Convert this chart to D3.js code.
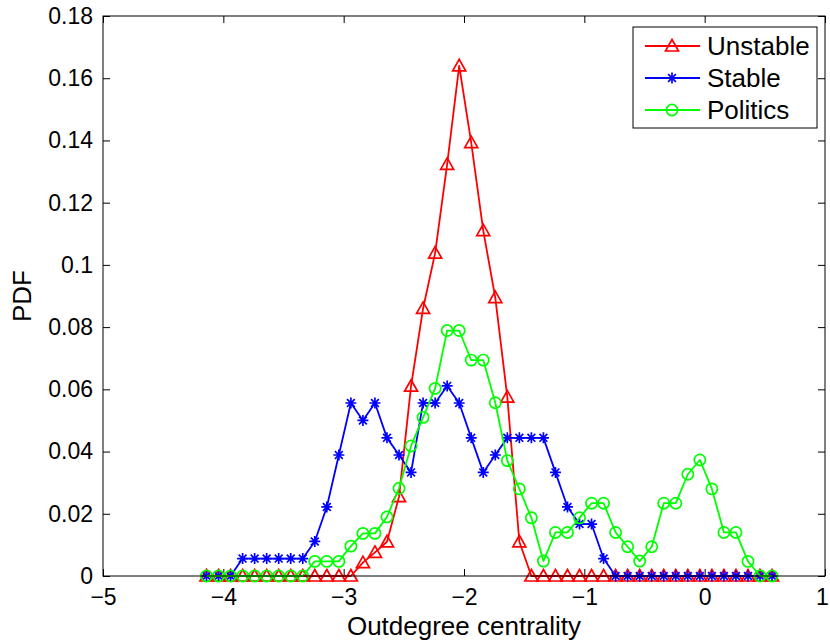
<!DOCTYPE html>
<html>
<head>
<meta charset="utf-8">
<script src="https://cdn.jsdelivr.net/npm/d3@7"></script>
<style>
  html, body { margin: 0; padding: 0; background: #fff; }
  svg { display: block; font-family: "Liberation Sans", Arial, Helvetica, sans-serif; }
</style>
</head>
<body>
<svg id="chart" width="830" height="644"></svg>
<script>
// Bin centres of outdegree centrality
const xs = [-4.14, -4.04, -3.94, -3.84, -3.74, -3.64, -3.54, -3.44, -3.34, -3.24,
            -3.14, -3.04, -2.94, -2.84, -2.74, -2.64, -2.54, -2.44, -2.34, -2.24,
            -2.14, -2.04, -1.94, -1.84, -1.74, -1.64, -1.54, -1.44, -1.34, -1.24,
            -1.14, -1.04, -0.94, -0.84, -0.74, -0.64, -0.54, -0.44, -0.34, -0.24,
            -0.14, -0.04, 0.06, 0.16, 0.26, 0.36, 0.46, 0.56];

const unstable = [0, 0, 0, 0, 0, 0, 0, 0, 0, 0,
                  0, 0, 0, 0.0043, 0.0076, 0.0110, 0.0255, 0.0610, 0.0860, 0.1038,
                  0.1323, 0.1640, 0.1393, 0.1110, 0.0895, 0.0575, 0.0110, 0, 0, 0,
                  0, 0, 0, 0, 0, 0, 0, 0, 0, 0,
                  0, 0, 0, 0, 0, 0, 0, 0];

const stable = [0, 0, 0, 0.0056, 0.0056, 0.0056, 0.0056, 0.0056, 0.0056, 0.0111,
                0.0222, 0.0389, 0.0556, 0.0500, 0.0556, 0.0444, 0.0389, 0.0333, 0.0556, 0.0556,
                0.0611, 0.0556, 0.0444, 0.0333, 0.0389, 0.0444, 0.0444, 0.0444, 0.0444, 0.0333,
                0.0222, 0.0167, 0.0167, 0.0056, 0, 0, 0, 0, 0, 0,
                0, 0, 0, 0, 0, 0, 0, 0];

const politics = [0, 0, 0, 0, 0, 0, 0, 0, 0, 0.0047,
                  0.0047, 0.0047, 0.0096, 0.0137, 0.0137, 0.0190, 0.0282, 0.0418, 0.0510, 0.0603,
                  0.0789, 0.0789, 0.0694, 0.0694, 0.0557, 0.0371, 0.0280, 0.0187, 0.0048, 0.0140,
                  0.0140, 0.0187, 0.0234, 0.0234, 0.0140, 0.0094, 0.0048, 0.0094, 0.0234, 0.0234,
                  0.0327, 0.0373, 0.0280, 0.0140, 0.0140, 0.0047, 0, 0];

const seriesNames = ["Unstable", "Stable", "Politics"];
const seriesColors = ["#ff0000", "#0000ff", "#00ff00"];
const seriesMarkers = ["triangle", "asterisk", "circle"];

const xTicks = [-5, -4, -3, -2, -1, 0, 1];
const xTickLabels = ["\u22125", "\u22124", "\u22123", "\u22122", "\u22121", "0", "1"];
const yTicks = [0, 0.02, 0.04, 0.06, 0.08, 0.1, 0.12, 0.14, 0.16, 0.18];
const yTickLabels = ["0", "0.02", "0.04", "0.06", "0.08", "0.1", "0.12", "0.14", "0.16", "0.18"];

const xTitle = "Outdegree centrality";
const yTitle = "PDF";

// ---- layout ----
const plotLeft = 103, plotRight = 825, plotTop = 16, plotBottom = 576;
const svg = d3.select("#chart");

const x = d3.scaleLinear().domain([-5, 1]).range([plotLeft, plotRight]);
const y = d3.scaleLinear().domain([0, 0.18]).range([plotBottom, plotTop]);

// plot background
svg.append("rect")
  .attr("x", plotLeft).attr("y", plotTop)
  .attr("width", plotRight - plotLeft).attr("height", plotBottom - plotTop)
  .attr("fill", "#fff");

// axes with inward ticks on all four sides
const tickLen = 7;
const tickFont = 23;
const titleFont = 26;

const axB = svg.append("g").attr("transform", `translate(0,${plotBottom})`)
  .call(d3.axisBottom(x).tickValues(xTicks).tickSize(-tickLen).tickPadding(13)
        .tickFormat((d, i) => xTickLabels[i]));
const axT = svg.append("g").attr("transform", `translate(0,${plotTop})`)
  .call(d3.axisTop(x).tickValues(xTicks).tickSize(-tickLen).tickFormat(""));
const axL = svg.append("g").attr("transform", `translate(${plotLeft},0)`)
  .call(d3.axisLeft(y).tickValues(yTicks).tickSize(-tickLen).tickPadding(10)
        .tickFormat((d, i) => yTickLabels[i]));
const axR = svg.append("g").attr("transform", `translate(${plotRight},0)`)
  .call(d3.axisRight(y).tickValues(yTicks).tickSize(-tickLen).tickFormat(""));

[axB, axT, axL, axR].forEach(g => {
  g.select(".domain").remove();
  g.selectAll(".tick line").attr("stroke", "#000").attr("stroke-width", 1);
  g.selectAll(".tick text")
    .attr("fill", "#000")
    .style("font-size", tickFont + "px")
    .style("font-family", "'Liberation Sans', Arial, sans-serif");
});
// keep the last x label inside the canvas edge
axB.selectAll(".tick text").filter(d => d === 1).attr("dx", -3);

// marker shapes
function markerPath(kind) {
  if (kind === "triangle") return "M0,-6.5L6.5,5L-6.5,5Z";
  return "M-5.5,0L5.5,0M0,-5.5L0,5.5M-3.9,-3.9L3.9,3.9M-3.9,3.9L3.9,-3.9";
}
function drawMarker(g, kind, color) {
  if (kind === "circle") {
    g.append("circle").attr("r", 5.6).attr("fill", "none")
      .attr("stroke", color).attr("stroke-width", 1.7);
  } else {
    g.append("path").attr("d", markerPath(kind))
      .attr("fill", "none").attr("stroke", color).attr("stroke-width", 1.7)
      .attr("stroke-linejoin", "miter");
  }
}

// series
const allSeries = [unstable, stable, politics];
const line = d3.line().x(d => x(d[0])).y(d => y(d[1]));

const plot = svg.append("g");
allSeries.forEach((vals, si) => {
  const pts = xs.map((xv, i) => [xv, vals[i]]);
  const g = plot.append("g");
  g.append("path").attr("d", line(pts))
    .attr("fill", "none").attr("stroke", seriesColors[si])
    .attr("stroke-width", 1.8).attr("stroke-linejoin", "round");
  pts.forEach(p => {
    const m = g.append("g").attr("transform", `translate(${x(p[0])},${y(p[1])})`);
    drawMarker(m, seriesMarkers[si], seriesColors[si]);
  });
});

// frame
svg.append("rect")
  .attr("x", plotLeft).attr("y", plotTop)
  .attr("width", plotRight - plotLeft).attr("height", plotBottom - plotTop)
  .attr("fill", "none").attr("stroke", "#000").attr("stroke-width", 1);

// axis titles
svg.append("text")
  .attr("x", (plotLeft + plotRight) / 2).attr("y", 635)
  .attr("text-anchor", "middle")
  .style("font-size", titleFont + "px")
  .text(xTitle);

svg.append("text")
  .attr("transform", `translate(31,${(plotTop + plotBottom) / 2}) rotate(-90)`)
  .attr("text-anchor", "middle")
  .style("font-size", titleFont + "px")
  .text(yTitle);

// legend
const lg = svg.append("g");
lg.append("rect")
  .attr("x", 633).attr("y", 27).attr("width", 184).attr("height", 101)
  .attr("fill", "#fff").attr("stroke", "#000").attr("stroke-width", 1);
const rowY = [46, 78, 110];
seriesNames.forEach((name, i) => {
  lg.append("line")
    .attr("x1", 645).attr("x2", 700).attr("y1", rowY[i]).attr("y2", rowY[i])
    .attr("stroke", seriesColors[i]).attr("stroke-width", 1.8);
  const m = lg.append("g").attr("transform", `translate(672,${rowY[i]})`);
  drawMarker(m, seriesMarkers[i], seriesColors[i]);
  lg.append("text")
    .attr("x", 707).attr("y", rowY[i] + 9)
    .style("font-size", titleFont + "px")
    .text(name);
});
</script>
</body>
</html>
